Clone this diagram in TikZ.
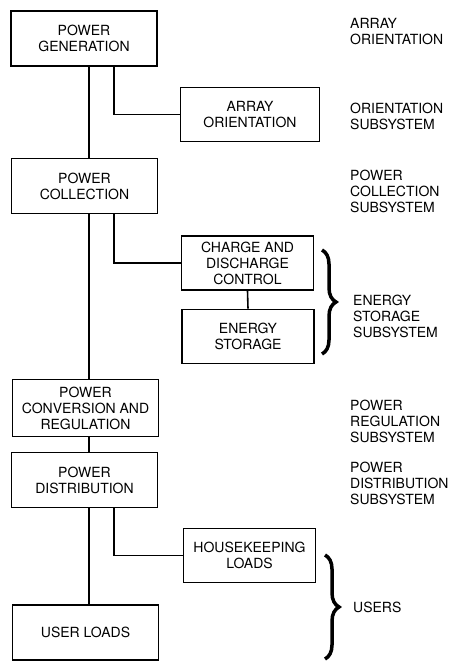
\documentclass[tikz,border=0pt]{standalone}
\usepackage{fontspec}
\setmainfont{TeX Gyre Heros}
\usetikzlibrary{decorations.pathreplacing}
\newcommand{\boxfont}{\fontsize{14}{16}\selectfont}

\begin{document}
\begin{tikzpicture}[x=1pt,y=-1pt,
		box/.style={draw,line width=1.6pt,align=center,font=\boxfont,inner sep=0pt},
		leftbox/.style={box,minimum width=146pt,minimum height=55pt},
		rightbox/.style={box,minimum width=132pt,minimum height=54pt},
		link/.style={line width=1.6pt},
		side/.style={anchor=west,align=left,font=\boxfont,inner sep=0pt},
		curly/.style={decorate,decoration={brace,amplitude=14pt,aspect=0.5},line width=3.5pt}]
	\useasboundingbox (0,0) rectangle (456,663);
	\coordinate (spine) at (89,0);
	\coordinate (tap) at (114,0);

	% blocks
	\node[leftbox] (gen) at (84,38.5) {POWER\\GENERATION};
	\node[rightbox,minimum width=139pt] (arr) at (250,114.5) {ARRAY\\ORIENTATION};
	\node[leftbox] (col) at (84.5,186) {POWER\\COLLECTION};
	\node[rightbox] (chg) at (247.5,263) {CHARGE AND\\DISCHARGE\\CONTROL};
	\node[rightbox] (sto) at (248,336.5) {ENERGY\\STORAGE};
	\node[leftbox,minimum height=57pt] (conv) at (85.5,408) {POWER\\CONVERSION AND\\REGULATION};
	\node[leftbox] (dist) at (84.5,480) {POWER\\DISTRIBUTION};
	\node[rightbox] (hk) at (249.5,555.5) {HOUSEKEEPING\\LOADS};
	\node[leftbox] (usr) at (85.5,632.5) {USER LOADS};

	% links
	\draw[link] (gen.south -| spine) -- (col.north -| spine);
	\draw[link] (col.south -| spine) -- (conv.north -| spine);
	\draw[link] (conv.south -| spine) -- (dist.north -| spine);
	\draw[link] (dist.south -| spine) -- (usr.north -| spine);
	\draw[link] (gen.south -| tap) |- (arr.west);
	\draw[link] (col.south -| tap) |- (chg.west);
	\draw[link] (dist.south -| tap) |- (hk.west);
	\draw[link] (chg.south) -- (sto.north);

	% braces
	\coordinate (es top) at (322,250);
	\coordinate (es bot) at (322,354);
	\coordinate (us top) at (325,555);
	\coordinate (us bot) at (325,659);
	\draw[curly] (es top) -- (es bot);
	\draw[curly] (us top) -- (us bot);

	% labels
	\node[side] (l1) at (350,31.5) {ARRAY\\ORIENTATION};
	\node[side] (l2) at (350,116.5) {ORIENTATION\\SUBSYSTEM};
	\node[side] (l3) at (350,191) {POWER\\COLLECTION\\SUBSYSTEM};
	\node[side] (l4) at (353,316) {ENERGY\\STORAGE\\SUBSYSTEM};
	\node[side] (l5) at (350,421) {POWER\\REGULATION\\SUBSYSTEM};
	\node[side] (l6) at (350,483) {POWER\\DISTRIBUTION\\SUBSYSTEM};
	\node[side] (l7) at (353,607) {USERS};
\end{tikzpicture}
\end{document}
